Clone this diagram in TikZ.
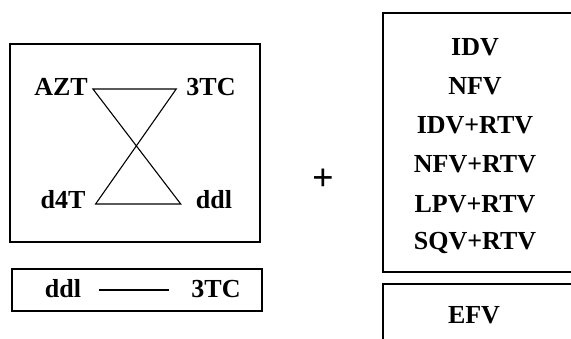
\documentclass[tikz,border=0pt]{standalone}
\usepackage{fontspec}
\setmainfont{Liberation Serif}
\begin{document}
\begin{tikzpicture}[x=1pt,y=-1pt,
  drug/.style={font=\fontsize{26}{28}\selectfont\bfseries, inner sep=0pt},
  frame/.style={draw=black, line width=1.1pt},
  link/.style={draw=black, line width=1.1pt}]
\clip (0,0) rectangle (571,339);
\fill[white] (0,0) rectangle (571,339);

% left panel: four nucleoside analogues joined as an hourglass
\draw[frame] (10,44) rectangle (260,242);
\node[drug] (azt) at (61,87) {AZT};
\node[drug] (tc3) at (211,87) {3TC};
\node[drug] (d4t) at (63,200) {d4T};
\node[drug] (ddl) at (214,200) {ddl};
\coordinate (tl) at ([xshift=5pt,yshift=-2pt]azt.east);
\coordinate (tr) at ([xshift=-10pt,yshift=-2pt]tc3.west);
\coordinate (bl) at ([xshift=10pt,yshift=-4pt]d4t.east);
\coordinate (br) at ([xshift=-15pt,yshift=-4pt]ddl.west);
\draw[link] (tl) -- (tr) -- (bl) -- (br) -- cycle;

% single pair below
\draw[frame] (12,269) rectangle (262,311);
\node[drug] (ddlb) at (63,289) {ddl};
\node[drug] (tc3b) at (216,289) {3TC};
\draw[link, shorten <=18pt, shorten >=22pt] ([yshift=-1pt]ddlb.east) -- ([yshift=-1pt]tc3b.west);

% plus sign
\node[font=\fontsize{38}{40}\selectfont\bfseries, inner sep=0pt] (plus) at (323,180) {+};

% right panel: protease inhibitor options
\draw[frame] (383,13) rectangle (580,272);
\node[drug] (idv) at (475,47) {IDV};
\node[drug] (nfv) at (475,86) {NFV};
\node[drug] (idvr) at (475,125) {IDV+RTV};
\node[drug] (nfvr) at (475,164.5) {NFV+RTV};
\node[drug] (lpvr) at (475,204) {LPV+RTV};
\node[drug] (sqvr) at (475,243.5) {SQV+RTV};

\draw[frame] (383,284) rectangle (580,350);
\node[drug] (efv) at (474,315) {EFV};
\end{tikzpicture}
\end{document}
